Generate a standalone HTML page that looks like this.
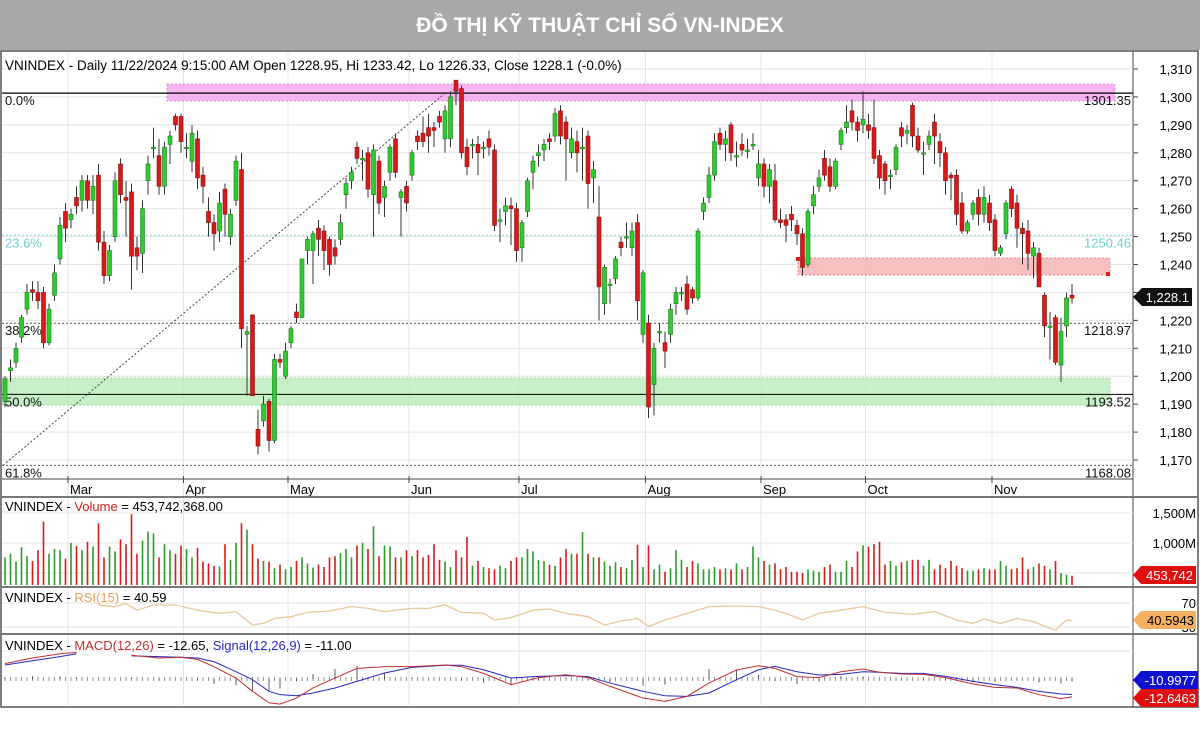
<!DOCTYPE html>
<html><head><meta charset="utf-8"><style>
body{margin:0;background:#fff;width:1200px;height:736px;overflow:hidden;font-family:"Liberation Sans","Noto Sans CJK SC",sans-serif}
#title{position:absolute;left:0;top:0;width:1200px;height:50px;background:#a8a8a8;color:#fff;font-weight:bold;font-size:21px;text-align:center;line-height:52px}
svg{position:absolute;left:0;top:0}
text{font-family:"Liberation Sans",sans-serif}
</style></head><body>
<div id="title">ĐỒ THỊ KỸ THUẬT CHỈ SỐ VN-INDEX</div>
<svg id="chart" width="1200" height="736"></svg>
<script>
// ---- data ----
const candles=[[1191,1200,1189,1199],[1202,1206,1198,1203],[1205,1212,1203,1210],[1214,1222,1212,1221],[1224,1233,1222,1230],[1231,1234,1227,1230],[1230,1234,1224,1227],[1230,1232,1210,1212],[1212,1226,1211,1224],[1229,1240,1227,1237],
[1242,1257,1240,1254],[1259,1262,1248,1253],[1256,1260,1253,1258],[1264,1268,1258,1261],[1263,1272,1259,1270],[1270,1272,1260,1263],[1263,1272,1258,1268],[1272,1276,1245,1248],[1248,1252,1233,1236],[1236,1247,1234,1245],
[1250,1273,1248,1270],[1276,1278,1262,1265],[1264,1270,1250,1263],[1266,1269,1231,1243],[1246,1250,1238,1243],[1244,1263,1237,1260],[1270,1279,1265,1276],[1282,1289,1278,1282],[1279,1285,1265,1268],[1268,1284,1265,1282],
[1283,1288,1276,1286],[1293,1294,1288,1290],[1293,1294,1280,1284],[1282,1287,1278,1282],[1277,1290,1273,1287],[1285,1288,1267,1271],[1272,1275,1262,1268],[1259,1264,1250,1255],[1255,1258,1245,1251],[1252,1266,1248,1262],
[1267,1269,1250,1258],[1250,1260,1247,1258],[1263,1279,1261,1277],[1274,1280,1210,1217],[1215,1218,1193,1216],[1222,1222,1193,1193],[1181,1188,1172,1175],[1184,1193,1182,1190],[1191,1192,1173,1177],[1177,1208,1176,1206],
[1206,1208,1203,1205],[1200,1212,1199,1209],[1212,1218,1210,1217],[1223,1226,1219,1221],[1221,1242,1221,1242],[1245,1250,1240,1249],[1245,1252,1233,1251],[1253,1256,1243,1249],[1252,1254,1238,1245],[1249,1250,1236,1240],
[1246,1249,1240,1243],[1249,1258,1247,1255],[1265,1271,1260,1269],[1270,1275,1267,1273],[1282,1284,1276,1278],[1278,1281,1270,1278],[1280,1282,1264,1267],[1265,1283,1250,1281],[1277,1279,1258,1262],[1264,1270,1257,1268],
[1273,1283,1270,1282],[1285,1287,1271,1273],[1264,1267,1250,1266],[1268,1270,1259,1262],[1272,1281,1270,1280],[1286,1288,1281,1284],[1287,1293,1282,1284],[1289,1294,1280,1286],[1289,1291,1282,1288],[1293,1295,1289,1291],
[1285,1297,1280,1295],[1285,1302,1282,1300],[1306,1306,1297,1302],[1303,1304,1278,1280],[1282,1285,1272,1275],[1283,1285,1278,1283],[1283,1286,1272,1280],[1282,1284,1278,1282],[1285,1288,1279,1282],[1281,1283,1252,1254],
[1256,1260,1248,1256],[1259,1264,1254,1261],[1261,1264,1247,1260],[1260,1262,1241,1245],[1246,1256,1241,1255],[1259,1271,1257,1270],[1273,1279,1267,1277],[1279,1283,1275,1280],[1281,1285,1277,1283],[1285,1287,1281,1284],
[1286,1296,1284,1294],[1295,1297,1283,1286],[1291,1293,1270,1285],[1280,1289,1278,1285],[1284,1288,1273,1280],[1282,1289,1270,1282],[1286,1288,1260,1269],[1271,1277,1262,1274],[1257,1268,1220,1232],[1226,1240,1222,1239],
[1233,1235,1226,1233],[1235,1243,1233,1242],[1248,1250,1243,1246],[1250,1255,1246,1250],[1246,1255,1243,1252],[1255,1258,1220,1227],[1215,1238,1212,1237],[1219,1222,1185,1189],[1197,1212,1186,1210],[1216,1219,1212,1216],
[1212,1216,1203,1209],[1215,1226,1212,1224],[1226,1232,1222,1230],[1230,1232,1227,1230],[1233,1236,1222,1224],[1231,1232,1226,1228],[1228,1253,1227,1252],[1259,1264,1256,1262],[1264,1275,1262,1272],[1272,1287,1270,1284],
[1287,1289,1281,1283],[1283,1288,1277,1285],[1290,1291,1277,1280],[1279,1284,1275,1279],[1283,1287,1279,1281],[1281,1285,1278,1281],[1283,1287,1281,1283],[1271,1281,1268,1276],[1276,1278,1264,1268],[1268,1276,1262,1274],
[1270,1276,1255,1256],[1256,1260,1253,1255],[1256,1258,1248,1254],[1258,1261,1252,1256],[1254,1256,1247,1251],[1251,1253,1236,1239],[1240,1260,1239,1259],[1261,1268,1258,1265],[1268,1274,1266,1271],[1278,1281,1270,1272],
[1275,1278,1266,1268],[1268,1278,1267,1277],[1283,1289,1281,1288],[1289,1297,1287,1291],[1295,1299,1288,1291],[1291,1293,1284,1288],[1290,1302,1287,1292],[1290,1294,1285,1288],[1289,1299,1276,1278],[1279,1281,1267,1271],
[1276,1277,1265,1270],[1272,1274,1267,1272],[1274,1283,1272,1282],[1289,1291,1282,1286],[1287,1290,1283,1288],[1297,1298,1282,1286],[1286,1289,1280,1281],[1280,1284,1272,1280],[1283,1288,1281,1286],[1291,1294,1276,1286],
[1284,1287,1275,1280],[1280,1282,1265,1270],[1272,1273,1263,1271],[1272,1274,1254,1258],[1262,1266,1251,1252],[1252,1256,1251,1255],[1258,1263,1256,1262],[1264,1267,1254,1258],[1258,1268,1255,1264],[1262,1265,1252,1255],
[1256,1258,1243,1245],[1244,1247,1243,1246],[1251,1263,1249,1262],[1267,1268,1257,1260],[1262,1265,1246,1253],[1253,1255,1240,1251],[1252,1256,1238,1244],[1243,1248,1235,1246],[1244,1246,1232,1232],[1229,1230,1214,1218],
[1218,1223,1206,1218],[1221,1222,1204,1205],[1204,1221,1198,1216],[1218,1230,1214,1228],[1229,1233,1226,1228]];
const volumes=[760,820,690,930,780,700,880,1356,820,900,
880,740,1000,950,880,1020,940,1330,760,940,
860,1060,980,1480,820,1040,1190,1160,760,980,
880,820,960,900,760,920,690,660,620,610,
980,720,1000,1330,1220,980,740,700,690,580,
640,560,600,700,760,660,590,640,600,760,
780,830,900,760,960,1000,900,1280,780,960,
940,760,760,880,780,880,760,800,980,720,
690,600,880,760,1100,620,700,600,580,560,
620,580,700,760,760,900,860,720,700,640,
620,760,900,820,820,1180,820,760,760,690,
620,680,600,580,720,970,600,960,560,640,
520,580,880,720,600,700,660,560,560,600,
560,580,560,660,560,600,940,760,700,640,
660,560,600,520,520,500,560,540,520,600,
640,520,520,700,600,860,960,940,980,1020,
640,700,620,680,700,720,720,620,720,560,
640,580,700,620,580,540,540,560,580,560,
560,700,620,560,580,760,560,600,660,620,
560,700,500,470,454];
const rsiIdx=[17,20,22,24,27,31,35,39,42,45,47,49,52,55,59,63,66,69,71,74,77,80,83,87,89,92,96,99,102,106,109,112,115,117,120,124,128,133,137,140,142,145,148,152,156,160,165,169,173,176,178,181,184,187,190,191,193,194];
const rsiVal=[66.7,63.9,69,58,66.7,66.7,58,52.8,55.6,33.3,36,44.4,47.2,54.4,56.7,63.9,61,55.6,58,61,61,66.7,54.4,52.8,41.7,45.6,58,60,52.8,47.2,33.3,40,44.4,30.6,41.7,52.8,63.9,65,63.9,58,52.8,41.7,52.8,58,63.9,54.4,51,55.6,41.7,36,43.3,36,44.4,39,27.8,25,41.7,40.59];
const macdIdx=[0,5,10,13,23,28,32,35,38,42,45,48,50,53,56,60,64,69,74,80,83,87,92,97,102,106,110,116,120,124,128,133,137,140,144,148,152,156,159,163,167,171,176,180,184,188,192,194];
const macdVal=[11,15,18,19,17,15,15.5,14,8.8,0.7,-8.8,-17,-17.9,-13.6,-6.4,0.7,7.6,8.8,8.8,10,8.8,4,-4,1,3,1,-5.2,-13.6,-16,-12.4,-2.9,6.4,9.5,7.6,1.7,1,5.2,7.1,4.8,3.6,3.3,1,-3.6,-6,-6.4,-11.2,-14,-12.65];
const sigVal=[10,13,16,18,16.5,16,15.5,15,12.4,5.2,-0.5,-8.8,-11.2,-12,-10,-6.4,-1.7,4.3,8.3,9.8,9.8,6.6,0.7,1.9,2.4,1.7,-2.9,-8.8,-12,-12.4,-10,-0.5,6.6,9,5.2,2.9,3.3,5.2,4.8,4,4,1.9,-1.7,-4,-6,-8.8,-10.7,-11];
const priceTicks=[1310,1300,1290,1280,1270,1260,1250,1240,1230,1220,1210,1200,1190,1180,1170];
const months=["Mar","Apr","May","Jun","Jul","Aug","Sep","Oct","Nov"];
const monthIdx=[12,33,52,74,94,117,138,157,180];
const fibLevels=[1301.35,1250.46,1218.97,1193.52,1168.08];
const fibPct=["0.0%","23.6%","38.2%","50.0%","61.8%"];

// ---- scales ----
const NS="http://www.w3.org/2000/svg";
const svg=document.getElementById('chart');
const xOf=i=>5+i*5.5;
const yP=p=>69+(1310-p)*2.793;
const yV=v=>603-v*0.06;
const yR=v=>603+(70-v)*0.6;
const yM=v=>679-v*1.4;
function mk(tag,attrs,parent){const e=document.createElementNS(NS,tag);for(const k in attrs)e.setAttribute(k,attrs[k]);(parent||svg).appendChild(e);return e;}
function txt(x,y,s,attrs){const t=mk('text',Object.assign({x:x,y:y,'font-size':13,fill:'#000'},attrs||{}));t.textContent=s;return t;}

// frame
const fr=mk('rect',{x:1,y:51,width:1197,height:656,fill:'none',stroke:'#555','stroke-width':1.5});

mk('line',{x1:1133,y1:51,x2:1133,y2:707,stroke:'#444'});

// grid: price
priceTicks.forEach(p=>{
  const y=yP(p);
  const g=mk('line',{x1:2,y1:y,x2:1133,y2:y,stroke:'#e4e4e4'});
  
  mk('line',{x1:1133,y1:y,x2:1138,y2:y,stroke:'#444'});
  const t=txt(1192,y+5,p.toLocaleString('en-US'),{'text-anchor':'end'});
  
});
monthIdx.forEach((mi,k)=>{
  const x=xOf(mi)-3;
  const g=mk('line',{x1:x,y1:52,x2:x,y2:705,stroke:'#e4e4e4'});
  
  mk('line',{x1:x,y1:476,x2:x,y2:483,stroke:'#444'});
  const t=txt(x+2,494,months[k]);
  
});
mk('line',{x1:2,y1:479,x2:1133,y2:479,stroke:'#444'});

// zones
let z=mk('rect',{x:167,y:84,width:948,height:17,fill:'#f5a3ee',opacity:0.8,stroke:'#d070c8','stroke-dasharray':'2,2'});

z=mk('rect',{x:2,y:378,width:1108,height:27,fill:'#b6ecb6',opacity:0.75,stroke:'#7cc67c','stroke-dasharray':'2,2'});

z=mk('rect',{x:798,y:258,width:312,height:17,fill:'#f6b4b4',opacity:0.85,stroke:'#d97070','stroke-dasharray':'2,2'});

mk('rect',{x:796,y:257,width:4,height:4,fill:'#e02020'});
mk('rect',{x:1106,y:272,width:4,height:4,fill:'#e02020'});

// fibonacci
const fibStyle=[{stroke:'#000','stroke-width':1.2},{stroke:'#7fd6d6','stroke-dasharray':'2,2'},{stroke:'#555','stroke-dasharray':'2,2'},{stroke:'#000','stroke-width':1},{stroke:'#555','stroke-dasharray':'2,2'}];
fibLevels.forEach((lv,k)=>{
  const y=yP(lv);
  const l=mk('line',Object.assign({x1:2,y1:y,x2:1133,y2:y},fibStyle[k]));
  
  const col=k==1?'#6cd0d0':'#111';
  const a=txt(5,y+12,fibPct[k],{fill:col});
  
  const b=txt(1131,y+12,lv.toFixed(2),{fill:col,'text-anchor':'end'});
  
});
const diag=mk('line',{x1:3,y1:yP(1168.08),x2:445,y2:yP(1301.35),stroke:'#444','stroke-dasharray':'2,2'});


// candles
candles.forEach((c,i)=>{
  const [o,h,l,cl]=c;const x=xOf(i);const up=cl>=o;
  const g=mk('g',{});
  
  mk('line',{x1:x,y1:yP(h),x2:x,y2:yP(l),stroke:'#333','stroke-width':1},g);
  const top=yP(Math.max(o,cl)),bot=yP(Math.min(o,cl));
  mk('rect',{x:x-2,y:top,width:4,height:Math.max(1.5,bot-top),fill:up?'#2ecc2e':'#d61a1a',stroke:up?'#1a7a1a':'#8a0f0f','stroke-width':0.6},g);
});

// header text
let hd=txt(5,70,'VNINDEX - Daily 11/22/2024 9:15:00 AM Open 1228.95, Hi 1233.42, Lo 1226.33, Close 1228.1 (-0.0%)',{'font-size':13.5});


// last price marker
let pm=mk('path',{d:'M1133,297 L1142,288 L1192,288 L1192,306 L1142,306 Z',fill:'#111'});

txt(1189,302,'1,228.1',{fill:'#fff','text-anchor':'end'});

// panel separators
[497,587,634].forEach(y=>{mk('line',{x1:1,y1:y,x2:1198,y2:y,stroke:'#777','stroke-width':2});});

// volume panel
[1500,1000,500].forEach(v=>{mk('line',{x1:2,y1:yV(v),x2:1133,y2:yV(v),stroke:'#e4e4e4'});});
[[1500,'1,500M'],[1000,'1,000M']].forEach(a=>{const t=txt(1196,yV(a[0])+5,a[1],{'text-anchor':'end'});});
volumes.forEach((v,i)=>{
  const c=candles[i];const up=c[3]>=c[0];
  const b=mk('line',{x1:xOf(i),y1:Math.max(yV(v),500),x2:xOf(i),y2:585,stroke:up?'#2a9a2a':'#d61a1a','stroke-width':1.6});
  
});
let vt=txt(5,511,'',{'font-size':13});
vt.innerHTML='<tspan>VNINDEX - </tspan><tspan fill="#d61a1a">Volume</tspan><tspan> = 453,742,368.00</tspan>';

let vm=mk('path',{d:'M1133,575 L1141,566 L1196,566 L1196,584 L1141,584 Z',fill:'#e01010'});

txt(1193,580,'453,742',{fill:'#fff','text-anchor':'end'});

// rsi panel
[70,30].forEach(v=>{mk('line',{x1:2,y1:yR(v),x2:1133,y2:yR(v),stroke:'#e4e4e4'});});
txt(1196,608,'70',{'text-anchor':'end'});
txt(1196,632,'30',{'text-anchor':'end'});
let rp='';rsiIdx.forEach((ix,k)=>{rp+=(k?'L':'M')+xOf(ix)+','+yR(rsiVal[k]);});
let rl=mk('path',{d:rp,fill:'none',stroke:'#e8c89a','stroke-width':1.3});

let rt=txt(5,602,'');
rt.innerHTML='<tspan>VNINDEX - </tspan><tspan fill="#e8a050">RSI(15)</tspan><tspan> = 40.59</tspan>';

let rm=mk('path',{d:'M1133,620 L1141,611 L1196,611 L1196,629 L1141,629 Z',fill:'#f5b060'});

txt(1194,625,'40.5943',{fill:'#000','text-anchor':'end'});

// macd panel
mk('line',{x1:2,y1:yM(20),x2:1133,y2:yM(20),stroke:'#e4e4e4'});
candles.forEach((c,i)=>{mk('line',{x1:xOf(i),y1:yM(0)-2,x2:xOf(i),y2:yM(0)+2,stroke:'#777','stroke-width':0.8});});
macdIdx.forEach((ix,k)=>{
  const hv=macdVal[k]-sigVal[k];
  const hb=mk('line',{x1:xOf(ix),y1:yM(0),x2:xOf(ix),y2:yM(hv),stroke:'#333','stroke-width':0.8});
  
});
function linePath(vals){let d='';macdIdx.forEach((ix,k)=>{const gap=k>0&&ix-macdIdx[k-1]>7;d+=(k===0||gap?'M':'L')+xOf(ix)+','+yM(vals[k]);});return d;}
let sl=mk('path',{d:linePath(sigVal),fill:'none',stroke:'#2828c0','stroke-width':1});

let ml=mk('path',{d:linePath(macdVal),fill:'none',stroke:'#c03030','stroke-width':1});

let mt=txt(5,650,'');
mt.innerHTML='<tspan>VNINDEX - </tspan><tspan fill="#c03030">MACD(12,26)</tspan><tspan> = -12.65, </tspan><tspan fill="#2828c0">Signal(12,26,9)</tspan><tspan> = -11.00</tspan>';

let bm=mk('path',{d:'M1133,680 L1141,671 L1198,671 L1198,689 L1141,689 Z',fill:'#1010d0'});

txt(1196,685,'-10.9977',{fill:'#fff','text-anchor':'end'});
let mm=mk('path',{d:'M1133,698 L1141,689 L1198,689 L1198,707 L1141,707 Z',fill:'#e01010'});

txt(1196,703,'-12.6463',{fill:'#fff','text-anchor':'end'});
</script>
</body></html>
